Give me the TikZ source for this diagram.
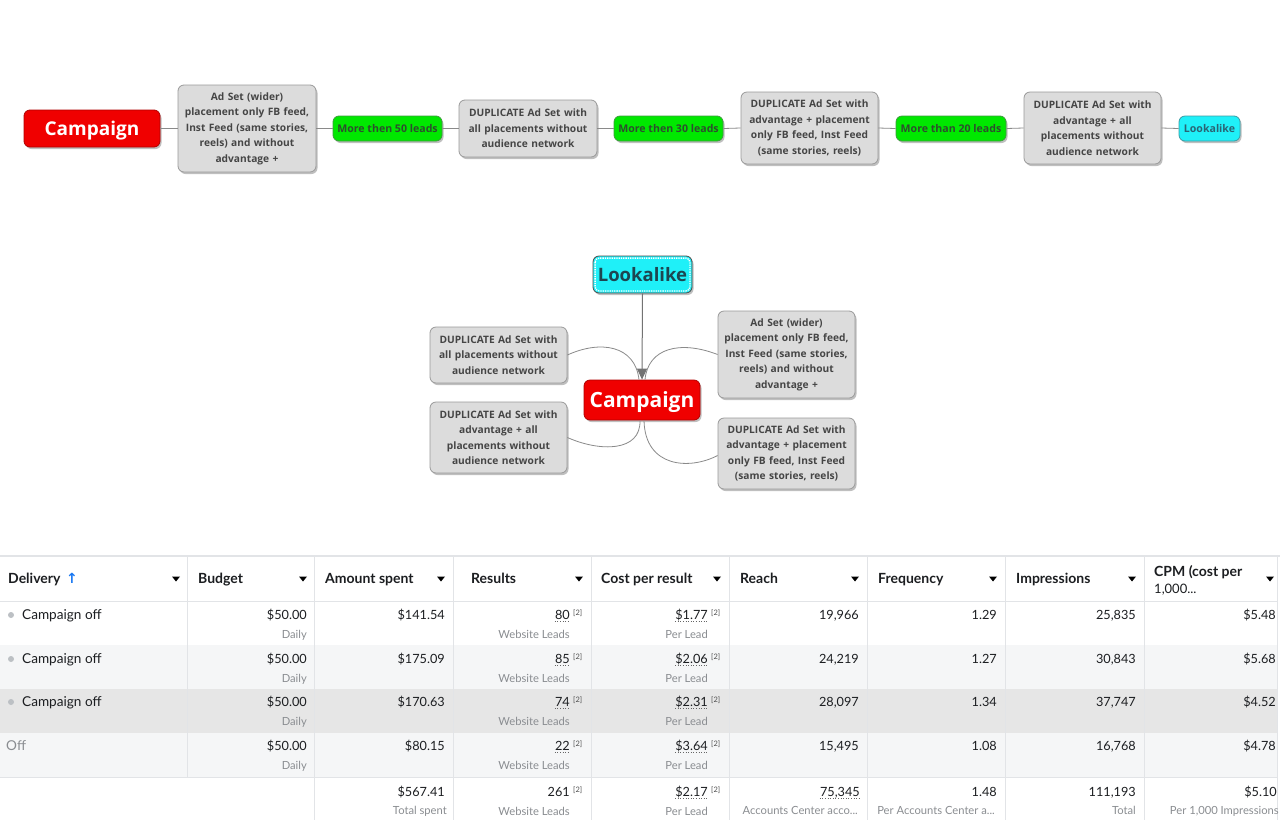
\documentclass[tikz,border=0pt]{standalone}
\usepackage{fontspec}
\usetikzlibrary{shadows,arrows.meta}
\newfontfamily\mmfont{Open Sans}
\newfontfamily\tbfont{Lato}
\newfontfamily\symfont{DejaVu Sans}
\definecolor{mmred}{HTML}{F00000}
\definecolor{mmredd}{HTML}{B00000}
\definecolor{mmgray}{HTML}{DCDCDC}
\definecolor{mmgrayd}{HTML}{9A9A9A}
\definecolor{mmtext}{HTML}{454545}
\definecolor{mmgreen}{HTML}{00E800}
\definecolor{mmgreend}{HTML}{3C9C3C}
\definecolor{mmgtext}{HTML}{2E4E2E}
\definecolor{mmcyan}{HTML}{1FF0F8}
\definecolor{mmcyand}{HTML}{3C9CA4}
\definecolor{mmctext}{HTML}{2A6474}
\definecolor{linkc}{HTML}{8A8A8A}
\definecolor{tline}{HTML}{E2E4E7}
\definecolor{rowa}{HTML}{F5F6F7}
\definecolor{rowb}{HTML}{E6E6E6}
\definecolor{tmain}{HTML}{1C1E21}
\definecolor{tsub}{HTML}{8A8D91}
\definecolor{fbblue}{HTML}{1877F2}
\definecolor{dotc}{HTML}{BCC0C4}
\begin{document}
\begin{tikzpicture}[x=1pt,y=-1pt,
  mmbase/.style={rounded corners=6pt, inner sep=0pt, align=center, line width=0.8pt,
    drop shadow={shadow xshift=1.5pt,shadow yshift=-2pt,fill=black,opacity=0.25}},
  gbox/.style={mmbase, draw=mmgrayd, fill=mmgray, text=mmtext, font=\mmfont\bfseries\fontsize{10.2}{15.5}\selectfont},
  rbox/.style={mmbase, draw=mmredd, fill=mmred, text=white},
  gnbox/.style={mmbase, draw=mmgreend, fill=mmgreen, text=mmgtext, font=\mmfont\bfseries\fontsize{10.6}{12}\selectfont},
  cbox/.style={mmbase, draw=mmcyand, fill=mmcyan, text=mmctext},
  link/.style={draw=linkc, line width=0.8pt},
  tmainst/.style={inner sep=0pt, text=tmain, font=\tbfont\fontsize{12.7}{14}\selectfont},
  tsubst/.style={inner sep=0pt, text=tsub, font=\tbfont\fontsize{11.2}{12}\selectfont},
  thead/.style={inner sep=0pt, text=tmain, font=\tbfont\bfseries\fontsize{14}{17}\selectfont},
  tsup/.style={inner sep=0pt, text=black!70, font=\tbfont\fontsize{7.5}{8}\selectfont},
  tgrid/.style={draw=tline, line width=1pt},
  dotline/.style={draw=black!60, dotted, line width=0.6pt}
]
\fill[white] (0,0) rectangle (1280,820);
\useasboundingbox (0,0) rectangle (1280,820);

% ---------------- top flow ----------------
\node[rbox, minimum width=136pt, minimum height=37pt, text height=14pt, text depth=0.5pt, font=\mmfont\bfseries\fontsize{19}{24}\selectfont] (c1) at (92,128.5) {Campaign};
\node[gbox, minimum width=138pt, minimum height=87pt, text width=134pt] (g1) at (247,128.5) {Ad Set (wider)\\placement only FB feed,\\Inst Feed (same stories,\\reels) and without\\advantage +};
\node[gnbox, minimum width=109pt, minimum height=25pt] (n1) at (387.5,128.5) {More then 50 leads};
\node[gbox, minimum width=138pt, minimum height=57pt, text width=134pt] (g2) at (528,128.5) {DUPLICATE Ad Set with\\all placements without\\audience network};
\node[gnbox, minimum width=109pt, minimum height=25pt] (n2) at (668.5,128.5) {More then 30 leads};
\node[gbox, minimum width=137pt, minimum height=72pt, text width=133pt] (g3) at (809.5,128) {DUPLICATE Ad Set with\\advantage + placement\\only FB feed, Inst Feed\\(same stories, reels)};
\node[gnbox, minimum width=110pt, minimum height=25pt] (n3) at (951,128.5) {More than 20 leads};
\node[gbox, minimum width=137pt, minimum height=72pt, text width=133pt] (g4) at (1092.5,128) {DUPLICATE Ad Set with\\advantage + all\\placements without\\audience network};
\node[cbox, minimum width=61pt, minimum height=25pt, font=\mmfont\bfseries\fontsize{10.6}{12}\selectfont] (n4) at (1209.5,128.5) {Lookalike};

\draw[link] (c1.east) -- (g1.west);
\draw[link] (g1.east) -- (n1.west);
\draw[link] (n1.east) -- (g2.west);
\draw[link] (g2.east) -- (n2.west);
\draw[link] (n2.east) -- (g3.west);
\draw[link] (g3.east) -- (n3.west);
\draw[link] (n3.east) -- (g4.west);
\draw[link] (g4.east) -- (n4.west);

% ---------------- mind map ----------------
\node[cbox, draw=black!70, minimum width=99pt, minimum height=37pt, text height=14pt, text depth=0.8pt, text=mmctext!70!black, font=\mmfont\bfseries\fontsize{18.5}{22}\selectfont] (lk) at (642.5,274.5) {Lookalike};
\draw[white, densely dotted, line width=1.3pt, rounded corners=4pt] ([shift={(2.5pt,-2.5pt)}]lk.north west) rectangle ([shift={(-2.5pt,2.5pt)}]lk.south east);
\node[rbox, minimum width=116pt, minimum height=40pt, text height=16pt, text depth=1pt, font=\mmfont\bfseries\fontsize{21}{26}\selectfont] (cm) at (642,400) {Campaign};
\node[gbox, minimum width=137pt, minimum height=56pt, text width=133pt] (lt) at (498.5,355) {DUPLICATE Ad Set with\\all placements without\\audience network};
\node[gbox, minimum width=137pt, minimum height=71pt, text width=133pt] (lb) at (498.5,437.5) {DUPLICATE Ad Set with\\advantage + all\\placements without\\audience network};
\node[gbox, minimum width=137pt, minimum height=87pt, text width=133pt] (rt) at (786.5,354.5) {Ad Set (wider)\\placement only FB feed,\\Inst Feed (same stories,\\reels) and without\\advantage +};
\node[gbox, minimum width=137pt, minimum height=71pt, text width=133pt] (rb) at (786.5,453.5) {DUPLICATE Ad Set with\\advantage + placement\\only FB feed, Inst Feed\\(same stories, reels)};

\draw[link, draw=black!55, line width=1pt, -{Triangle[width=10pt,length=11pt]}] (lk.south) -- (cm.north);
\draw[link] (lt.east) .. controls (600,340) and (635,345) .. ([xshift=-3pt]cm.north);
\draw[link] (rt.west) .. controls (680,340) and (648,348) .. ([xshift=3pt]cm.north);
\draw[link] ([xshift=-2pt]cm.south) .. controls (641,452) and (600,452) .. (lb.east);
\draw[link] ([xshift=2pt]cm.south) .. controls (645,468) and (690,470) .. ([yshift=-2pt]rb.west);

% ---------------- table ----------------
\fill[rowa] (0,645) rectangle (1277,689);
\fill[rowb] (0,689) rectangle (1277,733);
\fill[rowa] (0,733) rectangle (1277,777);
\draw[tgrid, line width=1.6pt] (0,556) -- (1280,556);
\draw[tgrid] (0,601) -- (1277,601);
\draw[tgrid] (0,777) -- (1277,777);
\draw[tgrid] (187,556) -- (187,777);
\foreach \x in {314,453,591,729,867,1005,1144,1277} \draw[tgrid] (\x,556) -- (\x,820);

% header
\node[thead, anchor=base west] (hDel) at (8,583) {Delivery};
\node[inner sep=0pt, text=fbblue, font=\symfont\bfseries\fontsize{14}{16}\selectfont, anchor=base west] (hArr) at (66,583) {↑};
\node[thead, anchor=base west] (hBud) at (198,583) {Budget};
\node[thead, anchor=base west] (hAmt) at (325,583) {Amount spent};
\node[thead, anchor=base west] (hRes) at (471,583) {Results};
\node[thead, anchor=base west] (hCpr) at (601,583) {Cost per result};
\node[thead, anchor=base west] (hRea) at (740,583) {Reach};
\node[thead, anchor=base west] (hFre) at (878,583) {Frequency};
\node[thead, anchor=base west] (hImp) at (1016,583) {Impressions};
\node[thead, anchor=base west] (hCpm1) at (1154,576) {CPM (cost per};
\node[thead, anchor=base west, font=\tbfont\fontsize{13}{14}\selectfont] (hCpm2) at (1154,593) {1,000...};
\foreach \x in {176,303,441,579,717,855,993,1132,1270}
  \fill[black] ({\x-4},576.5) -- ({\x+4},576.5) -- (\x,581.5) -- cycle;

% delivery column
\foreach \yy/\rr in {615/1,659/2,702/3} {
  \fill[dotc] (11,\yy) circle (3pt);
  \node[tmainst, anchor=base west, font=\tbfont\fontsize{13.6}{15}\selectfont] (d\rr) at (22,{\yy+4.8}) {Campaign off};
}
\node[tmainst, anchor=base west, text=tsub, font=\tbfont\fontsize{13.6}{15}\selectfont] (d4) at (6,750.8) {Off};

% budget and amount
\foreach \yy/\rr/\amt in {615/1/\$141.54, 659/2/\$175.09, 702/3/\$170.63, 746/4/\$80.15} {
  \node[tmainst, anchor=base east] (b\rr) at (307,{\yy+4.5}) {\$50.00};
  \node[tsubst, anchor=base east] (bs\rr) at (307,{\yy+23}) {Daily};
  \node[tmainst, anchor=base east] (a\rr) at (445,{\yy+4.5}) {\amt};
}
\node[tmainst, anchor=base east] (a5) at (445,796.5) {\$567.41};
\node[tsubst, anchor=base east] (as5) at (447,814) {Total spent};

% results and cost per result
\foreach \yy/\rr/\res/\cpr in {615/1/80/\$1.77, 659/2/85/\$2.06, 702/3/74/\$2.31, 746/4/22/\$3.64, 792/5/261/\$2.17} {
  \node[tmainst, anchor=base east] (r\rr) at (570,{\yy+4.5}) {\res};
  \node[tsup, anchor=base west] (rs\rr) at (573,{\yy+0.5}) {[2]};
  \node[tsubst, anchor=base east] (rl\rr) at (570,{\yy+23}) {Website Leads};
  \node[tmainst, anchor=base east] (p\rr) at (708,{\yy+4.5}) {\cpr};
  \node[tsup, anchor=base west] (ps\rr) at (711,{\yy+0.5}) {[2]};
  \node[tsubst, anchor=base east] (pl\rr) at (708,{\yy+23}) {Per Lead};
  \draw[dotline] ([yshift=-2pt]p\rr.base west) -- ([yshift=-2pt]p\rr.base east);
}
\foreach \rr in {1,2,3,4}
  \draw[dotline] ([yshift=-2pt]r\rr.base west) -- ([yshift=-2pt]r\rr.base east);

% reach, frequency, impressions, cpm
\foreach \yy/\rr/\rea/\fre/\imp/\cpm in {615/1/{19,966}/1.29/{25,835}/\$5.48, 659/2/{24,219}/1.27/{30,843}/\$5.68, 702/3/{28,097}/1.34/{37,747}/\$4.52, 746/4/{15,495}/1.08/{16,768}/\$4.78} {
  \node[tmainst, anchor=base east] (re\rr) at (859,{\yy+4.5}) {\rea};
  \node[tmainst, anchor=base east] (f\rr) at (997,{\yy+4.5}) {\fre};
  \node[tmainst, anchor=base east] (i\rr) at (1136,{\yy+4.5}) {\imp};
  \node[tmainst, anchor=base east] (m\rr) at (1276,{\yy+4.5}) {\cpm};
}
\node[tmainst, anchor=base east] (re5) at (860,796.5) {75,345};
\draw[dotline] ([yshift=-2pt]re5.base west) -- ([yshift=-2pt]re5.base east);
\node[tsubst, anchor=base east] (res5) at (858,814) {Accounts Center acco...};
\node[tmainst, anchor=base east] (f5) at (997,796.5) {1.48};
\node[tsubst, anchor=base east] (fs5) at (995,814) {Per Accounts Center a...};
\node[tmainst, anchor=base east] (i5) at (1136,796.5) {111,193};
\node[tsubst, anchor=base east] (is5) at (1136,814) {Total};
\node[tmainst, anchor=base east] (m5) at (1277,796.5) {\$5.10};
\node[tsubst, anchor=base east] (ms5) at (1279,814) {Per 1,000 Impressions};
\end{tikzpicture}
\end{document}
